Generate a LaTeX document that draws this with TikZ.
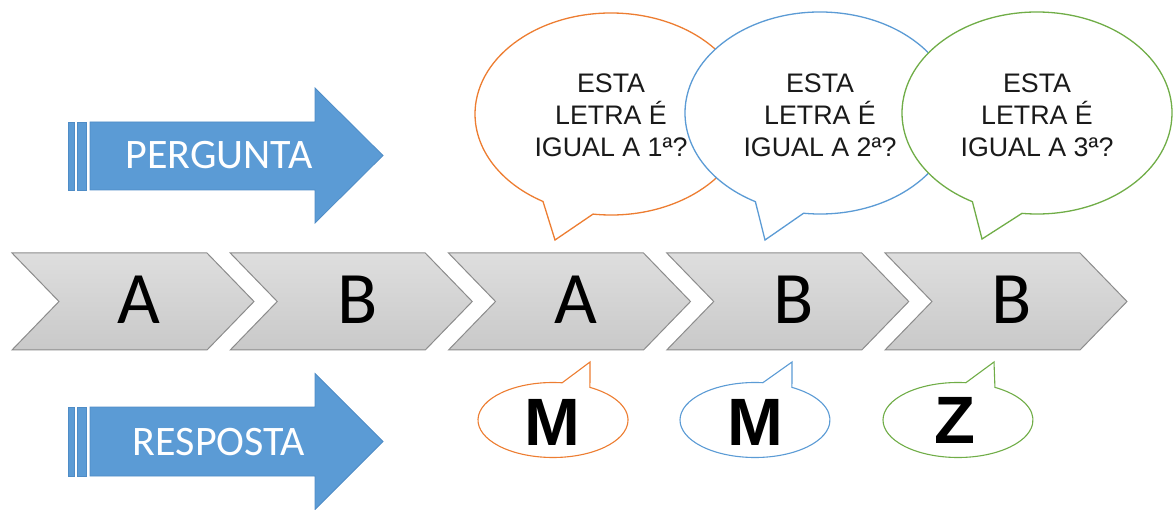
\documentclass[tikz,border=0pt]{standalone}
\usepackage{fontspec}
\setmainfont{Liberation Sans}
\newfontfamily\calib{Carlito}
\usetikzlibrary{calc}
\definecolor{arrowblue}{HTML}{5B9BD5}
\definecolor{arrowedge}{HTML}{4F8CC6}
\definecolor{borange}{HTML}{ED7D31}
\definecolor{bblue}{HTML}{5B9BD5}
\definecolor{bgreen}{HTML}{70AD47}
\definecolor{chevtop}{HTML}{DEDEDE}
\definecolor{chevbot}{HTML}{C9C9C9}
\definecolor{chevedge}{HTML}{8C8C8C}
\definecolor{txt}{HTML}{1A1A1A}
\tikzset{
  chev/.style={draw=chevedge, line width=1pt, top color=chevtop, bottom color=chevbot, line join=miter},
  chevtext/.style={inner sep=0pt, font=\calib\fontsize{74}{74}\selectfont, text=black},
  bluearrow/.style={fill=arrowblue, draw=arrowedge, line width=0.8pt, line join=miter},
  arrowtext/.style={inner sep=0pt, font=\calib\fontsize{42}{42}\selectfont, text=white},
  bubble/.style={fill=white, line width=1.3pt, line join=miter},
  bubbletext/.style={inner sep=0pt, align=center, text=txt, font=\fontsize{26.8}{32}\selectfont},
  answertext/.style={inner sep=0pt, text=black, font=\bfseries\fontsize{67}{67}\selectfont},
}
\begin{document}
\begin{tikzpicture}[x=1pt,y=1pt]
\useasboundingbox (0,0) rectangle (1175,509);

% blue arrows
\path[bluearrow] (68.3,319) rectangle (74,387);
\path[bluearrow] (77.7,319) rectangle (86.7,387);
\path[bluearrow] (90,387) -- (315,387) -- (315,421) -- (383,353.5) -- (315,286) -- (315,319) -- (90,319) -- cycle;
\node[arrowtext] (perg) at (219,354) {PERGUNTA};

\path[bluearrow] (68.3,33) rectangle (74,102);
\path[bluearrow] (77.7,33) rectangle (86.7,102);
\path[bluearrow] (90,102) -- (315,102) -- (315,135.5) -- (383,67.5) -- (315,-0.5) -- (315,33) -- (90,33) -- cycle;
\node[arrowtext] (resp) at (219,67) {RESPOSTA};

% chevrons
\foreach \L/\t [count=\i] in {12/A,230.25/B,448.5/A,666.75/B,885/B} {
  \path[chev] (\L,256) -- (\L+195,256) -- (\L+242,207.5) -- (\L+195,159) -- (\L,159) -- (\L+47,207.5) -- cycle;
  \node[chevtext] (c\i) at (\L+127,209) {\t};
}

% large speech bubbles
\coordinate (q1c) at (611,395);
\coordinate (q1t) at (555,269);
\path[bubble, draw=borange] (q1c) ++(262.4:136 and 101) arc[start angle=262.4, end angle=600, x radius=136, y radius=101] -- (q1t) -- cycle;
\node[bubbletext] (q1) at (611,394) {ESTA\\LETRA É\\IGUAL A 1ª?};

\coordinate (q2c) at (820,396);
\coordinate (q2t) at (765,269);
\path[bubble, draw=bblue] (q2c) ++(263:135 and 101) arc[start angle=263, end angle=601.4, x radius=135, y radius=101] -- (q2t) -- cycle;
\node[bubbletext] (q2) at (820,394) {ESTA\\LETRA É\\IGUAL A 2ª?};

\coordinate (q3c) at (1037,396);
\coordinate (q3t) at (982,270);
\path[bubble, draw=bgreen] (q3c) ++(263.6:135 and 101) arc[start angle=263.6, end angle=601.4, x radius=135, y radius=101] -- (q3t) -- cycle;
\node[bubbletext] (q3) at (1037,394) {ESTA\\LETRA É\\IGUAL A 3ª?};

% small answer bubbles
\coordinate (a1c) at (553,89);
\coordinate (a1t) at (590,147);
\path[bubble, draw=borange, line width=1.1pt] (a1c) ++(83:75 and 37.5) arc[start angle=83, end angle=420.5, x radius=75, y radius=37.5] -- (a1t) -- cycle;
\node[answertext] (a1) at (552,87) {M};

\coordinate (a2c) at (755,89);
\coordinate (a2t) at (792,147);
\path[bubble, draw=bblue, line width=1.1pt] (a2c) ++(84:75 and 37.5) arc[start angle=84, end angle=420.5, x radius=75, y radius=37.5] -- (a2t) -- cycle;
\node[answertext] (a2) at (755,87) {M};

\coordinate (a3c) at (958,89);
\coordinate (a3t) at (994,147);
\path[bubble, draw=bgreen, line width=1.1pt] (a3c) ++(84:75 and 37.5) arc[start angle=84, end angle=420.5, x radius=75, y radius=37.5] -- (a3t) -- cycle;
\node[answertext] (a3) at (955,89) {Z};
\end{tikzpicture}
\end{document}
